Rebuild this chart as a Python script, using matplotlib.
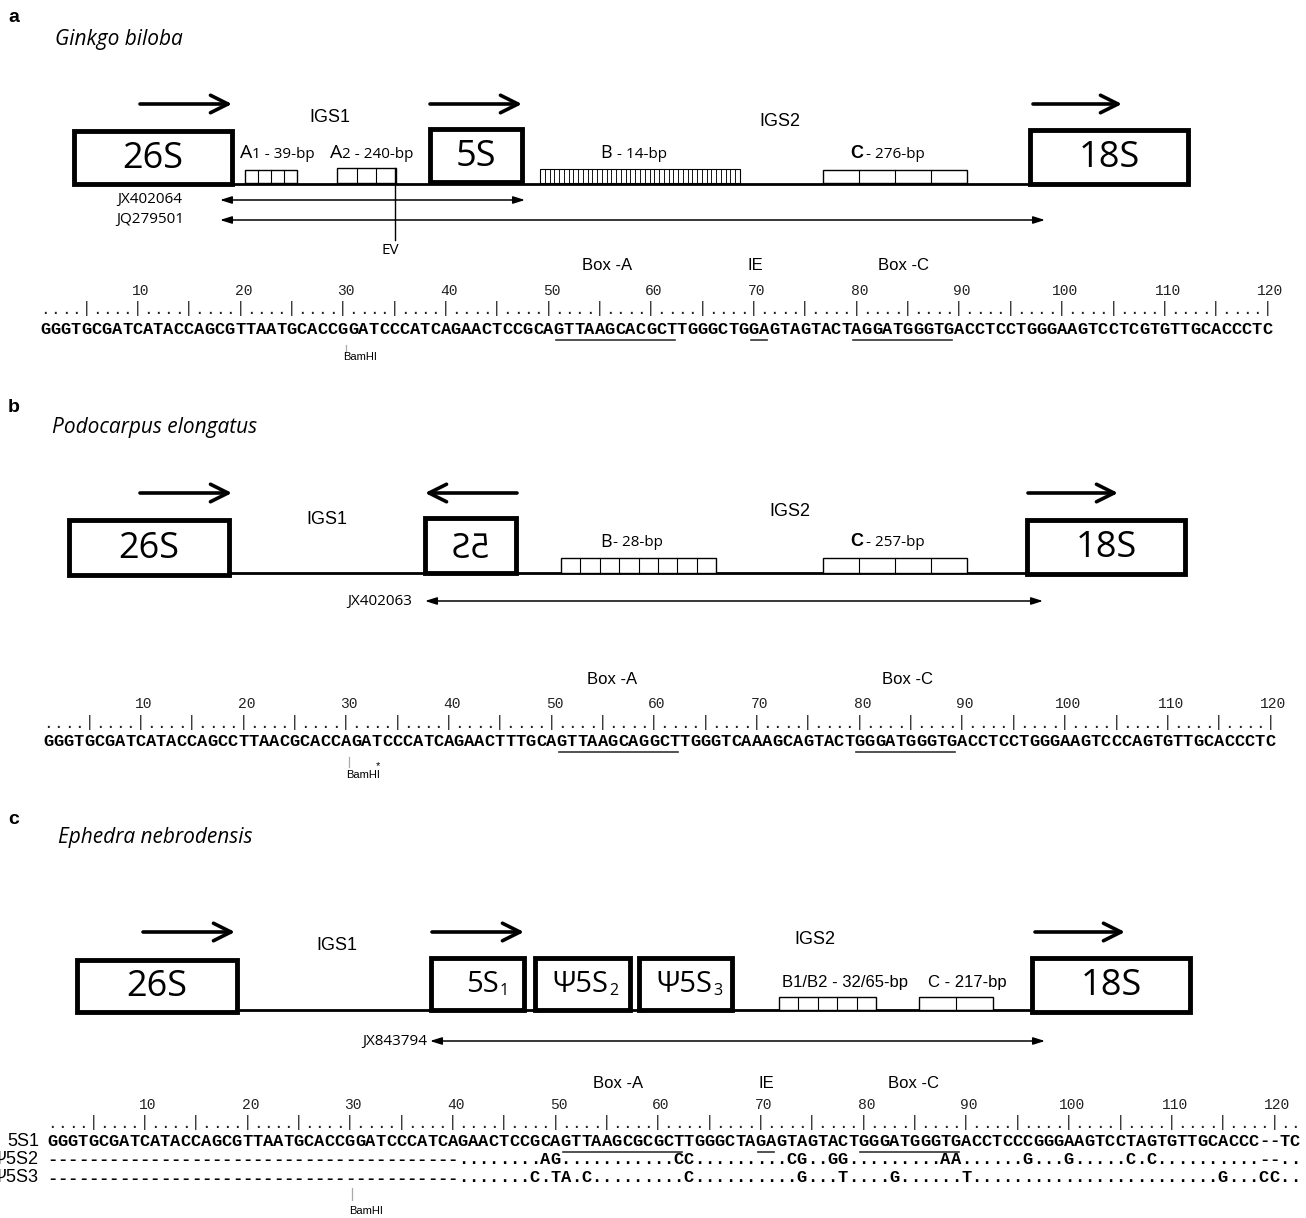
import matplotlib
matplotlib.use("Agg")
import matplotlib.pyplot as plt
from matplotlib.patches import Rectangle, PathPatch
from matplotlib.textpath import TextPath
from matplotlib.font_manager import FontProperties
from matplotlib.transforms import Affine2D

W, H = 1306, 1218
CW = 10.27  # width of one base in the alignment rows

letters = ["a", "b", "c"]
species = ["Ginkgo biloba", "Podocarpus elongatus", "Ephedra nebrodensis"]
accessions_a = ["JX402064", "JQ279501"]
accessions_b = ["JX402063"]
accessions_c = ["JX843794"]

seq_a = "GGGTGCGATCATACCAGCGTTAATGCACCGGATCCCATCAGAACTCCGCAGTTAAGCACGCTTGGGCTGGAGTAGTACTAGGATGGGTGACCTCCTGGGAAGTCCTCGTGTTGCACCCTC"
seq_b = "GGGTGCGATCATACCAGCCTTAACGCACCAGATCCCATCAGAACTTTGCAGTTAAGCAGGCTTGGGTCAAAGCAGTACTGGGATGGGTGACCTCCTGGGAAGTCCCAGTGTTGCACCCTC"
seq_c1 = "GGGTGCGATCATACCAGCGTTAATGCACCGGATCCCATCAGAACTCCGCAGTTAAGCGCGCTTGGGCTAGAGTAGTACTGGGATGGGTGACCTCCCGGGAAGTCCTAGTGTTGCACCC--TC"
seq_c2 = ("----------------------------------------"
          "........AG...........CC.........CG..GG.........AA......G...G.....C.C..........--..")
seq_c3 = ("----------------------------------------"
          ".......C.TA.C.........C..........G...T....G......T........................G...CC..")
row_labels_c = ["5S1", "\u03a85S2", "\u03a85S3"]

# underlined motifs (1-based base ranges)
motifs_a = [(51, 62), (70, 71), (80, 89)]
motifs_b = [(51, 62), (80, 89)]
motifs_c = [(51, 62), (70, 71), (80, 89)]
ruler_ticks = [10, 20, 30, 40, 50, 60, 70, 80, 90, 100, 110, 120]

fig = plt.figure(figsize=(W / 100, H / 100), dpi=100)
ax = fig.add_axes([0, 0, 1, 1])
ax.set_xlim(0, W)
ax.set_ylim(H, 0)
ax.axis("off")

SANS = "Liberation Sans"
BOXF = "Open Sans"
MONO = "Liberation Mono"


def gene(x0, x1, y0, y1, label=None, size=26, lw=3.5):
    ax.add_patch(Rectangle((x0, y0), x1 - x0, y1 - y0, fill=False, lw=lw, ec="black", zorder=3))
    if label:
        ax.text((x0 + x1) / 2, (y0 + y1) / 2 + 1, label, ha="center", va="center",
                fontsize=size, family=BOXF)


def gene_sub(x0, x1, y0, y1, main, sub, xsplit, size=21):
    gene(x0, x1, y0, y1)
    yc = (y0 + y1) / 2 + 1
    ax.text(xsplit, yc, main, ha="right", va="center", fontsize=size, family=BOXF)
    ax.text(xsplit + 1, yc + 6, sub, ha="left", va="center", fontsize=size * 0.55, family=BOXF)


def mirrored_gene(x0, x1, y0, y1, label, size=34):
    gene(x0, x1, y0, y1)
    tp = TextPath((0, 0), label, size=size, prop=FontProperties(family=BOXF))
    bb = tp.get_extents()
    cx, cy = (bb.x0 + bb.x1) / 2, (bb.y0 + bb.y1) / 2
    tr = Affine2D().translate(-cx, -cy).scale(-1, -1).translate((x0 + x1) / 2, (y0 + y1) / 2)
    ax.add_patch(PathPatch(tr.transform_path(tp), fc="black", ec="none", zorder=4))


def big_arrow(x0, x1, y):
    ax.annotate("", xy=(x1, y), xytext=(x0, y),
                arrowprops=dict(arrowstyle="->,head_length=0.9,head_width=0.45", lw=2.6,
                                color="black", shrinkA=0, shrinkB=0, mutation_scale=14))


def span_arrow(x0, x1, y):
    ax.annotate("", xy=(x1, y), xytext=(x0, y),
                arrowprops=dict(arrowstyle="<|-|>,head_length=0.7,head_width=0.22", lw=1.1,
                                color="black", shrinkA=0, shrinkB=0, mutation_scale=10))


def repeats(x0, x1, y0, y1, n, lw=1.0):
    ax.add_patch(Rectangle((x0, y0), x1 - x0, y1 - y0, fill=True, fc="white", lw=lw, ec="black", zorder=2))
    step = (x1 - x0) / n
    for k in range(1, n):
        ax.plot([x0 + k * step] * 2, [y0, y1], color="black", lw=lw * 0.8, zorder=2)


def row(x0, y, s, bold=True, size=12.3, color="black"):
    for i, ch in enumerate(s):
        ax.text(x0 + (i + 0.5) * CW, y, ch, ha="center", va="center", fontsize=size,
                family=MONO, fontweight="bold" if bold else "normal", color=color)


def alignment(x0, y_num, y_rule, seqs, y_seq0, dy, motifs, nbase):
    for t in ruler_ticks:
        ax.text(x0 + (t - 0.5) * CW + 3, y_num, str(t), ha="center", va="center",
                fontsize=10.5, family=MONO, color="#222222")
    rule = ("....|" * 25)[:nbase]
    row(x0, y_rule, rule, bold=False, size=11.5, color="#222222")
    for k, s in enumerate(seqs):
        row(x0, y_seq0 + k * dy, s)
    for a, b in motifs:
        ax.plot([x0 + (a - 1) * CW + 2, x0 + b * CW - 2], [y_seq0 + 10.5] * 2, color="#333333", lw=1.2)


def bamhi(x, y0, y1, ytxt, star=False):
    ax.plot([x, x], [y0, y1], color="#aaaaaa", lw=0.9)
    ax.text(x + 14, ytxt, "BamHI", ha="center", va="center", fontsize=8, family=SANS)
    if star:
        ax.text(x + 29, ytxt - 9, "*", ha="center", va="center", fontsize=8, family=SANS)


# ---------------- panel a ----------------
ax.text(8, 17, letters[0], fontsize=14, fontweight="bold", family=SANS, va="center")
ax.text(55, 40, species[0], fontsize=15, style="italic", family=BOXF, va="center")
ax.plot([232, 1030], [184, 184], color="black", lw=2)
big_arrow(140, 232, 104)
big_arrow(430, 522, 104)
big_arrow(1033, 1122, 104)
gene(74, 232, 131, 184, "26S")
gene(430, 522, 129, 182, "5S")
gene(1030, 1188, 130, 184, "18S")
ax.text(330, 117, "IGS1", ha="center", va="center", fontsize=13, family=SANS)
ax.text(780, 121, "IGS2", ha="center", va="center", fontsize=13, family=SANS)
repeats(245, 297, 170, 183, 4)
repeats(337, 396, 168, 183, 3)
repeats(540, 740, 169, 183, 42, lw=0.8)
repeats(823, 967, 170, 183, 4)
ax.text(240, 153, "A", ha="left", va="center", fontsize=14, family=BOXF)
ax.text(252, 155, "1 - 39-bp", ha="left", va="center", fontsize=11, family=BOXF)
ax.text(330, 153, "A", ha="left", va="center", fontsize=14, family=BOXF)
ax.text(342, 155, "2 - 240-bp", ha="left", va="center", fontsize=11, family=BOXF)
ax.text(600, 153, "B", ha="left", va="center", fontsize=13, family=BOXF)
ax.text(613, 154, " - 14-bp", ha="left", va="center", fontsize=11, family=BOXF)
ax.text(850, 153, "C", ha="left", va="center", fontsize=13, family=SANS, fontweight="bold")
ax.text(862, 154, " - 276-bp", ha="left", va="center", fontsize=11, family=BOXF)
ax.text(150, 200, accessions_a[0], ha="center", va="center", fontsize=11, family=BOXF)
ax.text(150, 220, accessions_a[1], ha="center", va="center", fontsize=11, family=BOXF)
span_arrow(220, 525, 200)
span_arrow(220, 1045, 220)
ax.plot([395, 395], [168, 240], color="black", lw=1)
ax.text(390, 250, "EV", ha="center", va="center", fontsize=11, family=BOXF)
for x, t in [(607, "Box -A"), (755, "IE"), (903, "Box -C")]:
    ax.text(x, 266, t, ha="center", va="center", fontsize=12, family=SANS)
alignment(40, 291, 309, [seq_a], 329, 0, motifs_a, 120)
bamhi(346, 345, 352, 357)

# ---------------- panel b ----------------
ax.text(8, 408, letters[1], fontsize=14, fontweight="bold", family=SANS, va="center")
ax.text(52, 428, species[1], fontsize=15, style="italic", family=BOXF, va="center")
ax.plot([229, 1027], [573, 573], color="black", lw=2)
big_arrow(140, 232, 493)
big_arrow(517, 425, 493)
big_arrow(1028, 1118, 493)
gene(69, 229, 520, 575, "26S")
mirrored_gene(425, 516, 518, 573, "5S")
gene(1027, 1185, 520, 574, "18S")
ax.text(327, 520, "IGS1", ha="center", va="center", fontsize=13, family=SANS)
ax.text(790, 511, "IGS2", ha="center", va="center", fontsize=13, family=SANS)
repeats(561, 716, 558, 573, 8)
repeats(823, 967, 558, 573, 4)
ax.text(600, 542, "B", ha="left", va="center", fontsize=13, family=BOXF)
ax.text(613, 543, "- 28-bp", ha="left", va="center", fontsize=11, family=BOXF)
ax.text(850, 542, "C", ha="left", va="center", fontsize=13, family=SANS, fontweight="bold")
ax.text(862, 543, " - 257-bp", ha="left", va="center", fontsize=11, family=BOXF)
ax.text(380, 601, accessions_b[0], ha="center", va="center", fontsize=11, family=BOXF)
span_arrow(425, 1043, 601)
for x, t in [(612, "Box -A"), (908, "Box -C")]:
    ax.text(x, 679, t, ha="center", va="center", fontsize=12, family=SANS)
alignment(43, 704, 723, [seq_b], 741, 0, motifs_b, 120)
bamhi(349, 757, 767, 775, star=True)

# ---------------- panel c ----------------
ax.text(8, 820, letters[2], fontsize=14, fontweight="bold", family=SANS, va="center")
ax.text(58, 838, species[2], fontsize=15, style="italic", family=BOXF, va="center")
ax.plot([237, 1032], [1010, 1010], color="black", lw=2)
big_arrow(143, 235, 932)
big_arrow(432, 524, 932)
big_arrow(1035, 1125, 932)
gene(77, 237, 960, 1012, "26S")
gene_sub(431, 524, 958, 1010, "5S", "1", 499)
gene_sub(535, 630, 958, 1010, "\u03a85S", "2", 608)
gene_sub(639, 732, 958, 1010, "\u03a85S", "3", 712)
gene(1032, 1190, 958, 1012, "18S")
ax.text(337, 945, "IGS1", ha="center", va="center", fontsize=13, family=SANS)
ax.text(815, 940, "IGS2", ha="center", va="center", fontsize=13, family=SANS)
repeats(779, 876, 997, 1010, 5)
repeats(919, 993, 997, 1010, 2)
ax.text(845, 983, "B1/B2 - 32/65-bp", ha="center", va="center", fontsize=12, family=SANS)
ax.text(967, 983, "C - 217-bp", ha="center", va="center", fontsize=12, family=SANS)
ax.text(395, 1042, accessions_c[0], ha="center", va="center", fontsize=11, family=BOXF)
span_arrow(430, 1045, 1041)
for x, t in [(618, "Box -A"), (766, "IE"), (913, "Box -C")]:
    ax.text(x, 1084, t, ha="center", va="center", fontsize=12, family=SANS)
alignment(47, 1105, 1123, [seq_c1, seq_c2, seq_c3], 1141, 18.5, motifs_c, 122)
for k, lab in enumerate(row_labels_c):
    ax.text(39, 1141 + k * 18.5, lab, ha="right", va="center", fontsize=13, family=SANS)
bamhi(352, 1188, 1200, 1211)

fig.savefig("out.png", dpi=100)
